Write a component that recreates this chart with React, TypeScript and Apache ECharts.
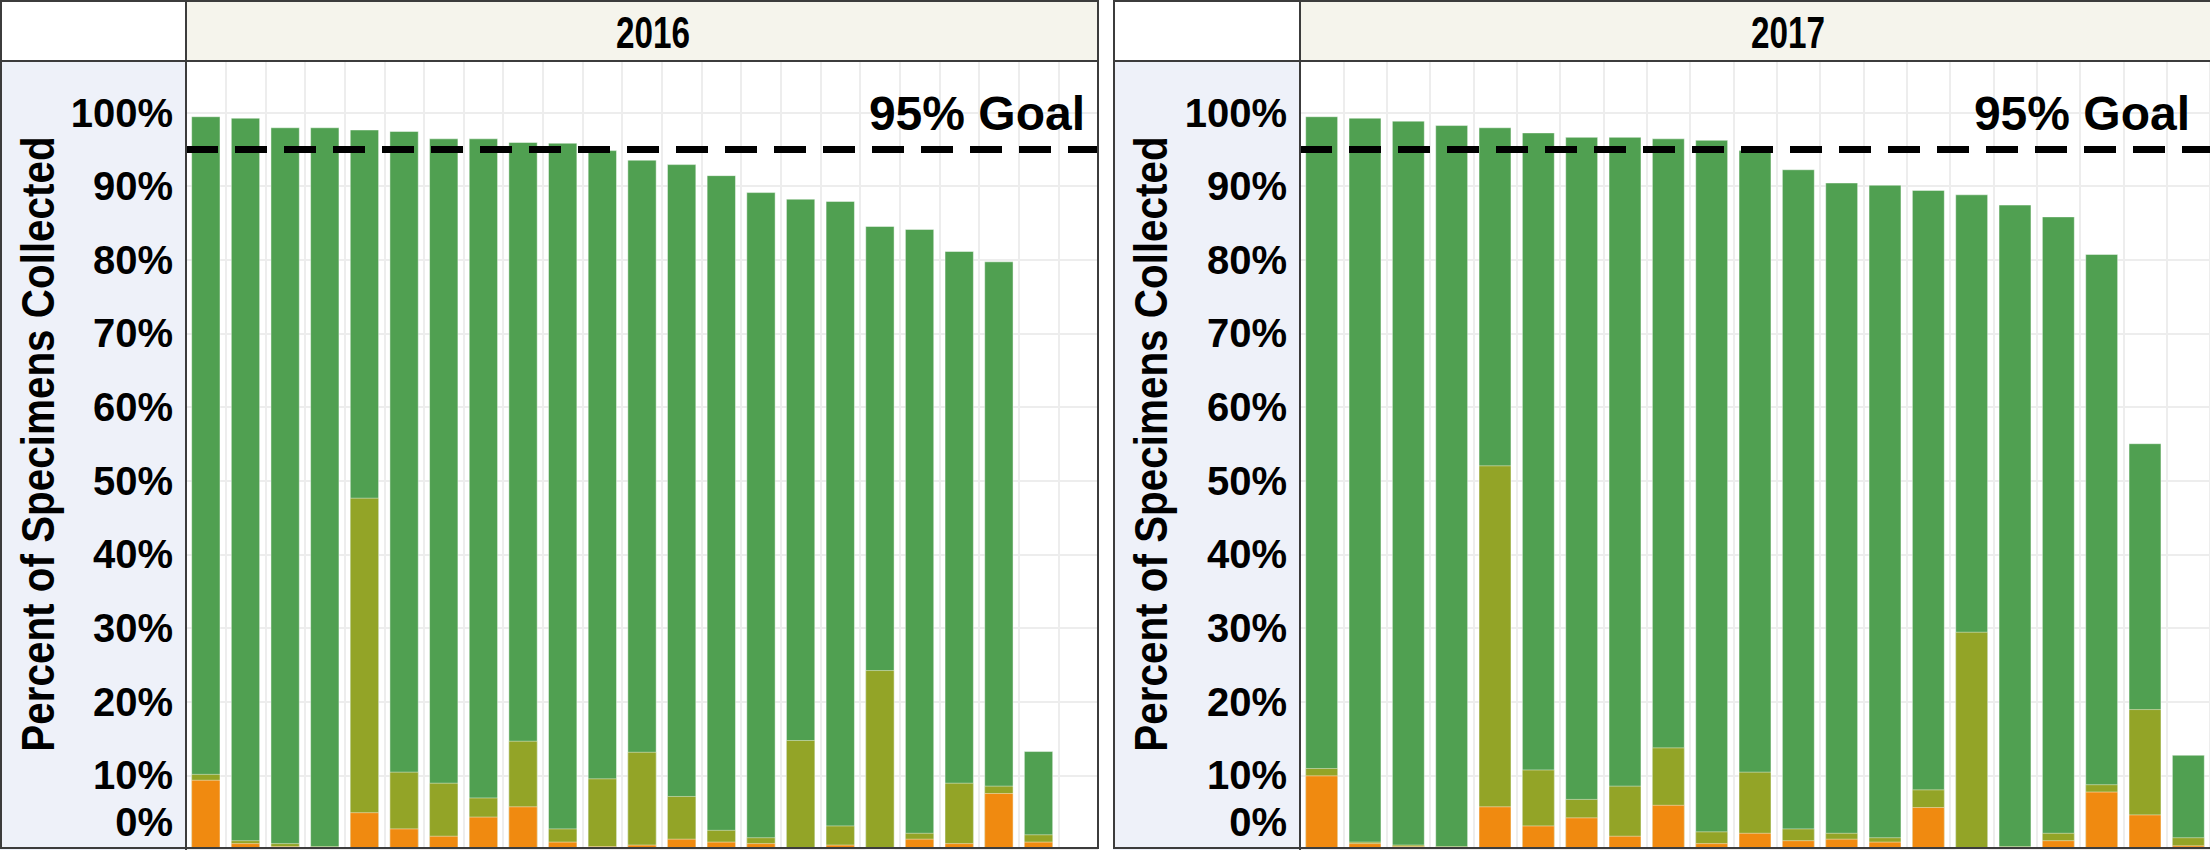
import React, { useEffect, useRef } from 'react';
import * as echarts from 'echarts';

// ---- data ----
const years = ['2016', '2017'];
const cats2016 = ['1', '2', '3', '4', '5', '6', '7', '8', '9', '10', '11', '12', '13', '14', '15', '16', '17', '18', '19', '20', '21', '22', '23'];
const cats2017 = ['1', '2', '3', '4', '5', '6', '7', '8', '9', '10', '11', '12', '13', '14', '15', '16', '17', '18', '19', '20', '21'];

// cumulative heights (percent)
const total2016 = [99.5, 99.3, 98.0, 98.0, 97.7, 97.5, 96.5, 96.5, 96.0, 95.9, 94.9, 93.6, 93.0, 91.5, 89.2, 88.3, 88.0, 84.6, 84.2, 81.2, 79.8, 13.3];
const mid2016 = [10.2, 1.2, 0.8, 0.4, 47.7, 10.5, 9.0, 7.0, 14.7, 2.8, 9.6, 13.2, 7.2, 2.6, 1.6, 14.8, 3.2, 24.3, 2.2, 9.0, 8.6, 2.0];
const low2016 = [9.4, 0.8, 0.4, 0.2, 5.0, 2.8, 1.8, 4.4, 5.8, 1.0, 0.4, 0.6, 1.4, 1.0, 0.8, 0.2, 0.6, 0, 1.4, 0.8, 7.6, 1.0];

const total2017 = [99.5, 99.3, 98.9, 98.3, 98.0, 97.3, 96.7, 96.7, 96.5, 96.3, 94.9, 92.3, 90.5, 90.2, 89.5, 88.9, 87.5, 85.9, 80.8, 55.1, 12.8];
const mid2017 = [11.0, 1.0, 0.6, 0.4, 52.1, 10.8, 6.8, 8.6, 13.8, 2.4, 10.5, 2.8, 2.2, 1.6, 8.1, 29.5, 0.4, 2.2, 8.8, 19.0, 1.6];
const low2017 = [10.0, 0.8, 0.4, 0.2, 5.8, 3.2, 4.3, 1.8, 6.0, 0.8, 2.2, 1.2, 1.4, 1.0, 5.7, 0, 0.2, 1.2, 7.8, 4.7, 0.5];

const goal = 95;
const yTicks = { min: 0, max: 107, interval: 10 };

const GREEN = '#50a051';
const OLIVE = '#93a427';
const ORANGE = '#f08a10';
const FONT = 'Liberation Sans, Arial, sans-serif';

export default function App() {
  const ref = useRef<HTMLDivElement>(null);

  useEffect(() => {
    if (!ref.current) return;
    const chart = echarts.init(ref.current, undefined, { renderer: 'svg' });

    const grids = [
      { left: 186, top: 61, width: 912, height: 788 },
      { left: 1300, top: 61, width: 911, height: 788 },
    ];
    const cats = [cats2016, cats2017];
    const totals = [total2016, total2017];
    const mids = [mid2016, mid2017];
    const lows = [low2016, low2017];
    const gaps = ['26%', '24%'];

    const xAxis = grids.map((_, i) => ({
      type: 'category',
      gridIndex: i,
      data: cats[i],
      axisLabel: { show: false },
      axisTick: { show: false },
      axisLine: { show: false },
      splitLine: { show: true, lineStyle: { color: '#ededed', width: 2 } },
    }));
    const yAxis = grids.map((_, i) => ({
      type: 'value',
      gridIndex: i,
      min: yTicks.min,
      max: yTicks.max,
      interval: yTicks.interval,
      axisLine: { show: false },
      axisTick: { show: false },
      splitLine: { show: true, lineStyle: { color: '#ededed', width: 2 } },
      axisLabel: {
        showMaxLabel: false,
        margin: 13,
        color: '#000',
        fontSize: 40,
        fontWeight: 'bold',
        fontFamily: FONT,
        formatter: (v: number) => (v > 100 ? '' : v === 0 ? '{z|0%}' : v + '%'),
        rich: { z: { fontSize: 40, fontWeight: 'bold', fontFamily: FONT, color: '#000', padding: [0, 0, 54, 0] } },
      },
    }));

    const series: any[] = [];
    grids.forEach((_, i) => {
      const base = { type: 'bar', xAxisIndex: i, yAxisIndex: i, barGap: '-100%', barCategoryGap: gaps[i], silent: true };
      const border = { borderColor: 'rgba(255,255,255,0.45)', borderWidth: 1 };
      series.push({ ...base, name: 'Collected ' + years[i], data: totals[i], itemStyle: { color: GREEN, ...border } });
      series.push({ ...base, name: 'Middle ' + years[i], data: mids[i], itemStyle: { color: OLIVE, ...border } });
      series.push({
        ...base,
        name: 'Low ' + years[i],
        data: lows[i],
        itemStyle: { color: ORANGE, ...border },
        markLine: {
          silent: true,
          symbol: 'none',
          z: 10,
          data: [{ yAxis: goal }],
          lineStyle: { type: [32, 17], width: 7, color: '#000' },
          label: {
            show: true,
            position: 'insideEndTop',
            formatter: '95% Goal',
            fontSize: 48,
            fontWeight: 'bold',
            fontFamily: FONT,
            color: '#000',
            distance: [i === 0 ? 13 : 20, 12],
          },
        },
      });
    });

    const stroke = '#3c3c3c';
    const graphic: any[] = [];
    const panels = [
      { x0: 0, axisX: 186, x1: 1099, titleX: 653 },
      { x0: 1113, axisX: 1300, x1: 2212, titleX: 1788 },
    ];
    panels.forEach((p, i) => {
      graphic.push({ type: 'rect', z: -10, silent: true, shape: { x: p.x0, y: 0, width: p.axisX - p.x0, height: 61 }, style: { fill: '#ffffff' } });
      graphic.push({ type: 'rect', z: -10, silent: true, shape: { x: p.axisX, y: 0, width: p.x1 - p.axisX, height: 61 }, style: { fill: '#f5f4ec' } });
      graphic.push({ type: 'rect', z: -10, silent: true, shape: { x: p.x0, y: 61, width: p.axisX - p.x0, height: 789 }, style: { fill: '#eef1f9' } });
      graphic.push({ type: 'rect', z: 100, silent: true, shape: { x: p.x0 + 1, y: 1, width: p.x1 - p.x0 - 2, height: 847 }, style: { fill: 'none', stroke, lineWidth: 2 } });
      graphic.push({ type: 'line', z: 100, silent: true, shape: { x1: p.x0, y1: 61, x2: p.x1, y2: 61 }, style: { stroke, lineWidth: 2 } });
      graphic.push({ type: 'line', z: 100, silent: true, shape: { x1: p.axisX, y1: 0, x2: p.axisX, y2: 850 }, style: { stroke, lineWidth: 2 } });
      graphic.push({
        type: 'text', z: 100, silent: true, x: p.titleX, y: 32, scaleX: 0.74,
        style: { text: years[i], fontSize: 45, fontWeight: 'bold', fontFamily: FONT, fill: '#000', align: 'center', verticalAlign: 'middle' },
      });
      graphic.push({
        type: 'text', z: 100, silent: true, x: p.x0 + 37, y: 444, rotation: Math.PI / 2, scaleX: 0.86,
        style: { text: 'Percent of Specimens Collected', fontSize: 47, fontWeight: 'bold', fontFamily: FONT, fill: '#000', align: 'center', verticalAlign: 'middle' },
      });
    });

    chart.setOption({
      animation: false,
      backgroundColor: '#ffffff',
      grid: grids,
      xAxis,
      yAxis,
      series,
      graphic,
    });

    return () => chart.dispose();
  }, []);

  return <div ref={ref} style={{ position: 'absolute', left: 0, top: 0, width: 2210, height: 850 }} />;
}
